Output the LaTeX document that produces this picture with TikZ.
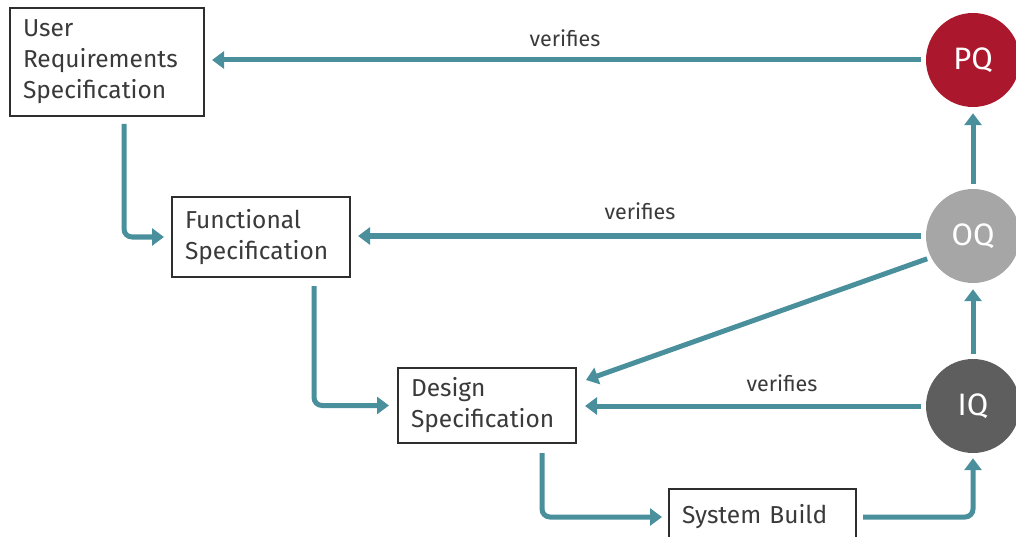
\documentclass[tikz,border=0pt]{standalone}
\usepackage{fontspec}
\setmainfont{Fira Sans}
\usetikzlibrary{arrows.meta,calc}
\definecolor{flowc}{HTML}{4A8F9C}
\definecolor{boxc}{HTML}{2E2E2E}
\definecolor{textc}{HTML}{3A3A3A}
\definecolor{pqc}{HTML}{AB182D}
\definecolor{oqc}{HTML}{A6A6A6}
\definecolor{iqc}{HTML}{5E5E5E}
\begin{document}
\begin{tikzpicture}[x=1pt,y=-1pt,
  flow/.style={draw=flowc, line width=5pt, rounded corners=8pt, -{Triangle[width=17pt,length=12pt]}},
  box/.style={draw=boxc, line width=2pt, fill=white, align=left, text=textc,
    font=\fontsize{24.5}{31}\selectfont, inner xsep=13pt, inner ysep=0pt, anchor=center},
  qc/.style={circle, minimum size=94pt, text=white, font=\fontsize{31}{32}\selectfont, inner sep=0pt},
  lab/.style={text=textc, font=\fontsize{21.5}{24}\selectfont}]
\useasboundingbox (0,0) rectangle (1016,537);
\clip (0,0) rectangle (1016,537);
% boxes
\node[box, minimum width=194pt, minimum height=108pt, text width=168pt] (URS) at (107,62) {User\\Requirements\\Specification};
\node[box, minimum width=178pt, minimum height=80pt, text width=152pt] (FS) at (261,237) {Functional\\Specification};
\node[box, minimum width=178pt, minimum height=75pt, text width=152pt] (DS) at (487,405.5) {Design\\Specification};
\node[box, minimum width=187pt, minimum height=56pt, text width=161pt] (SB) at (762.5,517) {System Build};
% circles
\node[qc, fill=pqc] (PQ) at (973,60) {PQ};
\node[qc, fill=oqc] (OQ) at (973,236) {OQ};
\node[qc, fill=iqc] (IQ) at (973,406) {IQ};
% verifies arrows
\draw[flow, shorten <=5pt, shorten >=7pt] (PQ.west) -- (PQ.west -| URS.east);
\draw[flow, shorten <=5pt, shorten >=7pt] (OQ.west) -- (OQ.west -| FS.east);
\draw[flow, shorten <=5pt, shorten >=8pt] (IQ.west) -- (IQ.west -| DS.east);
\node[lab] (v1) at (565,38) {verifies};
\node[lab] (v2) at (640,211) {verifies};
\node[lab] (v3) at (782,383) {verifies};
% diagonal
\coordinate (dsin) at ($(DS.north east)+(9,13)$);
\draw[flow, shorten <=4pt] (OQ.207) -- (dsin);
% vertical between circles
\draw[flow, shorten <=5pt, shorten >=6pt] (OQ.north) -- (PQ.south);
\draw[flow, shorten <=5pt, shorten >=6pt] (IQ.north) -- (OQ.south);
% cascade
\draw[flow, shorten >=7pt] ($(URS.south west)+(115,7)$) |- (FS.west);
\draw[flow, shorten >=8pt] ($(FS.south west)+(143,8)$) |- (DS.west);
\draw[flow, shorten >=6pt] ($(DS.south west)+(145,9)$) |- (SB.west);
\draw[flow, shorten >=5pt] ($(SB.east)+(6,0)$) -| (IQ.south);
\end{tikzpicture}
\end{document}
